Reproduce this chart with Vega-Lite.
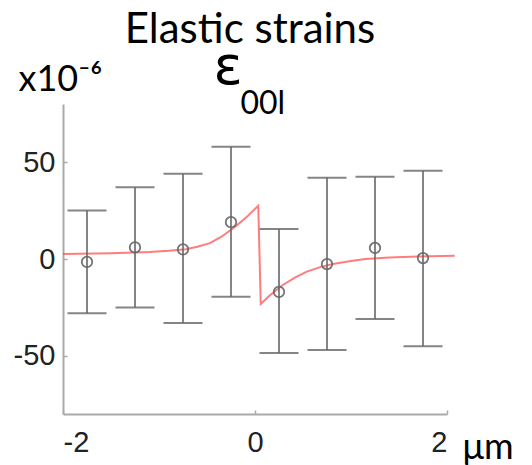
{
  "$schema": "https://vega.github.io/schema/vega-lite/v6.json",
  "autosize": {"type": "none"},
  "width": 384,
  "height": 310,
  "padding": {"left": 63, "top": 104, "right": 85, "bottom": 51},
  "background": "white",
  "title": {
    "text": "Elastic strains",
    "anchor": "middle",
    "font": "Lato",
    "fontSize": 42,
    "fontWeight": "normal",
    "color": "#000000",
    "baseline": "alphabetic",
    "offset": 0,
    "dx": -5,
    "dy": 45
  },
  "datasets": {
    "points": [
      {"x": -1.75, "y": -1.5, "lo": -28, "hi": 25},
      {"x": -1.25, "y": 6, "lo": -25, "hi": 37},
      {"x": -0.75, "y": 5, "lo": -33, "hi": 44},
      {"x": -0.25, "y": 19, "lo": -19.5, "hi": 58},
      {"x": 0.25, "y": -17, "lo": -48.5, "hi": 15.5},
      {"x": 0.75, "y": -2.6, "lo": -47, "hi": 42},
      {"x": 1.25, "y": 5.7, "lo": -31, "hi": 42.5},
      {"x": 1.75, "y": 0.5, "lo": -45, "hi": 45.5}
    ],
    "curve": [
      {"x": -2.0, "y": 2.6},
      {"x": -1.5, "y": 3.0},
      {"x": -1.1, "y": 3.6},
      {"x": -0.9, "y": 4.2},
      {"x": -0.72, "y": 5.0},
      {"x": -0.6, "y": 6.3},
      {"x": -0.47, "y": 8.2},
      {"x": -0.35, "y": 11.5},
      {"x": -0.21, "y": 16.5},
      {"x": -0.09, "y": 21.5},
      {"x": 0.034, "y": 27.5},
      {"x": 0.06, "y": -23.2},
      {"x": 0.15, "y": -19},
      {"x": 0.29, "y": -13.4},
      {"x": 0.42, "y": -9.5},
      {"x": 0.54, "y": -6.5},
      {"x": 0.68, "y": -4.2},
      {"x": 0.81, "y": -2.6},
      {"x": 1.0, "y": -1.0},
      {"x": 1.15, "y": 0},
      {"x": 1.4, "y": 0.8},
      {"x": 1.7, "y": 1.3},
      {"x": 2.08, "y": 1.7}
    ]
  },
  "config": {
    "view": {"stroke": null},
    "axis": {
      "domainColor": "#aaaaaa",
      "domainWidth": 2,
      "tickColor": "#aaaaaa",
      "tickWidth": 1.5,
      "tickSize": -4,
      "grid": false,
      "labelFont": "Liberation Sans",
      "labelFontSize": 29,
      "labelColor": "#222222"
    }
  },
  "resolve": {"axis": {"x": "independent", "y": "independent"}},
  "layer": [
    {
      "data": {"name": "curve"},
      "mark": {"type": "line", "color": "#ff5050", "strokeWidth": 2, "opacity": 0.75, "clip": false},
      "encoding": {
        "x": {
          "field": "x", "type": "quantitative",
          "scale": {"domain": [-2, 2], "nice": false},
          "axis": {
            "values": [-2, 0, 2],
            "labelExpr": "'' + datum.value",
            "labelPadding": 18,
            "title": "μm",
            "titleFont": "Lato",
            "titleFontSize": 36,
            "titleFontWeight": "normal",
            "titleColor": "#000000",
            "titleAngle": 0,
            "titleAlign": "left",
            "titleBaseline": "alphabetic",
            "titleX": 399,
            "titleY": 44
          }
        },
        "y": {
          "field": "y", "type": "quantitative",
          "scale": {"domain": [-80, 80], "nice": false, "zero": false},
          "axis": {
            "values": [-50, 0, 50],
            "labelExpr": "'' + datum.value",
            "labelPadding": 12,
            "title": "x10⁻⁶",
            "titleFont": "Lato",
            "titleFontSize": 36,
            "titleFontWeight": "normal",
            "titleColor": "#000000",
            "titleAngle": 0,
            "titleAlign": "left",
            "titleBaseline": "alphabetic",
            "titleX": -45,
            "titleY": -14
          }
        }
      }
    },
    {
      "data": {"name": "points"},
      "mark": {"type": "rule", "color": "#666666", "strokeWidth": 2, "opacity": 0.8},
      "encoding": {
        "x": {"field": "x", "type": "quantitative", "axis": null},
        "y": {"field": "lo", "type": "quantitative", "axis": null},
        "y2": {"field": "hi"}
      }
    },
    {
      "data": {"name": "points"},
      "mark": {"type": "tick", "orient": "horizontal", "size": 39, "thickness": 2, "color": "#666666", "opacity": 0.8},
      "encoding": {
        "x": {"field": "x", "type": "quantitative", "axis": null},
        "y": {"field": "lo", "type": "quantitative", "axis": null}
      }
    },
    {
      "data": {"name": "points"},
      "mark": {"type": "tick", "orient": "horizontal", "size": 39, "thickness": 2, "color": "#666666", "opacity": 0.8},
      "encoding": {
        "x": {"field": "x", "type": "quantitative", "axis": null},
        "y": {"field": "hi", "type": "quantitative", "axis": null}
      }
    },
    {
      "data": {"name": "points"},
      "mark": {"type": "point", "shape": "circle", "filled": false, "size": 110, "strokeWidth": 1.8, "color": "#666666", "opacity": 0.9},
      "encoding": {
        "x": {
          "field": "x", "type": "quantitative",
          "axis": {
            "orient": "top",
            "domain": false,
            "ticks": false,
            "labels": false,
            "title": "00l",
            "titleFont": "Lato",
            "titleFontSize": 32,
            "titleFontWeight": "normal",
            "titleColor": "#000000",
            "titleAngle": 0,
            "titleAlign": "left",
            "titleBaseline": "alphabetic",
            "titleX": 177,
            "titleY": 9
          }
        },
        "y": {
          "field": "y", "type": "quantitative",
          "axis": {
            "orient": "right",
            "domain": false,
            "ticks": false,
            "labels": false,
            "title": "ε",
            "titleFont": "DejaVu Sans",
            "titleFontSize": 54,
            "titleFontWeight": "normal",
            "titleColor": "#000000",
            "titleAngle": 0,
            "titleAlign": "left",
            "titleBaseline": "alphabetic",
            "titleX": -234,
            "titleY": -21
          }
        }
      }
    }
  ]
}
